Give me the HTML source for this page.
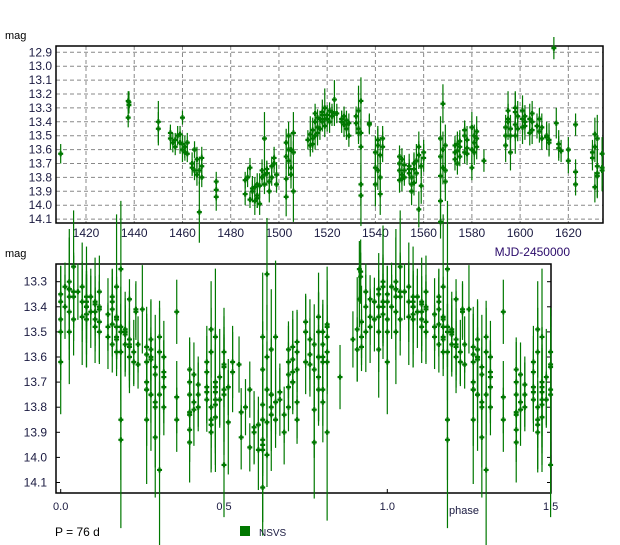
<!DOCTYPE html>
<html><head><meta charset="utf-8"><style>
html,body{margin:0;padding:0;background:#fff;}
svg{display:block;font-family:"Liberation Sans",sans-serif;}
</style></head><body>
<svg id="chart" width="620" height="545"></svg>
<script>
// Observations: MJD-2450000, mag, error
const obsTimes = [1409.5,1437.5,1437.5,1437.8,1437.8,1450,1450,1455,1455,1456,1457,1457,1458,1459,1459,1460,1460,1460,1461,1461,1462,1462,1464,1464,1465,1465,1466,1466,1467,1467,1468,1468,1468,1474,1474,1474,1486,1486,1487,1488,1488,1489,1489,1490,1490,1491,1491,1491,1492,1492,1493,1493,1494,1494,1494,1495,1495,1496,1496,1497,1497,1498,1498,1499,1499,1503,1503,1503,1503,1504,1504,1504,1505,1505,1505,1506,1506,1506,1512,1513,1513,1514,1514,1514,1515,1515,1515,1516,1516,1516,1517,1517,1518,1518,1518,1519,1519,1519,1520,1520,1521,1521,1522,1522,1523,1523,1524,1526,1526,1527,1527,1528,1528,1528,1529,1529,1532,1532,1533,1533,1533,1534,1534,1534,1534,1534,1537.5,1537.5,1540,1540,1540,1541,1541,1541,1542,1542,1542,1543,1543,1550,1550,1550,1550,1551,1551,1551,1552,1552,1552,1554,1554,1554,1555,1555,1555,1556,1556,1556,1557,1557,1558,1558,1558,1559,1559,1560,1560,1567,1567,1567,1567,1567,1568,1568,1568,1569,1569,1569,1573,1573,1573,1574,1574,1574,1575,1575,1575,1577,1577,1577,1578,1578,1578,1580,1580,1580,1581,1581,1581,1582,1582,1582,1585,1594,1594,1594,1595,1595,1595,1596,1596,1596,1598,1598,1598,1598,1599,1599,1601,1601,1601,1602,1602,1602,1604,1604,1605,1605,1605,1607,1608,1608,1609,1609,1611,1611,1612,1612,1614,1615,1616,1616,1617,1620,1620,1623,1623,1623,1630,1630,1631,1631,1631,1632,1632,1632,1632,1634,1634,1634];
const obsMags = [13.63,13.25,13.37,13.26,13.28,13.40,13.45,13.48,13.52,13.55,13.58,13.53,13.50,13.55,13.49,13.60,13.37,13.56,13.62,13.58,13.55,13.63,13.70,13.73,13.75,13.60,13.67,13.78,13.75,14.05,13.72,13.80,13.66,13.83,13.89,13.94,13.82,13.92,13.80,13.73,13.96,13.88,13.90,13.87,13.97,13.85,13.93,13.95,13.99,13.86,13.75,13.80,13.52,13.78,13.85,13.77,13.74,13.83,13.90,13.80,13.72,13.66,13.70,13.78,13.85,13.55,13.65,13.81,13.94,13.50,13.60,13.68,13.73,13.78,13.60,13.48,13.90,13.62,13.53,13.49,13.57,13.46,13.52,13.56,13.34,13.40,13.50,13.48,13.44,13.37,13.45,13.38,13.40,13.33,13.35,13.43,13.38,13.30,13.35,13.38,13.32,13.40,13.36,13.33,13.24,13.34,13.34,13.40,13.38,13.36,13.42,13.42,13.45,13.39,13.41,13.50,13.41,13.36,13.45,13.48,13.32,13.48,13.58,13.85,13.93,13.25,13.41,13.42,13.62,13.73,13.85,13.53,13.57,13.75,13.64,13.80,13.92,13.52,13.58,13.75,13.65,13.82,13.70,13.78,13.67,13.81,13.71,13.80,13.75,13.72,13.74,13.77,13.80,13.85,13.90,13.74,13.70,13.84,13.68,13.77,13.64,13.58,14.03,13.72,13.86,13.66,13.62,13.52,13.65,13.79,13.97,14.12,13.27,13.60,13.73,13.57,13.75,13.83,13.57,13.62,13.67,13.61,13.70,13.56,13.65,13.58,13.54,13.50,13.62,13.46,13.53,13.63,13.59,13.44,13.60,13.73,13.50,13.55,13.62,13.47,13.52,13.58,13.68,13.44,13.50,13.57,13.38,13.32,13.40,13.45,13.50,13.62,13.33,13.30,13.42,13.50,13.36,13.45,13.32,13.38,13.44,13.40,13.36,13.43,13.38,13.48,13.40,13.34,13.46,13.43,13.38,13.47,13.44,13.52,13.51,13.50,13.53,13.55,12.87,13.41,13.56,13.59,13.61,13.60,13.68,13.42,13.76,13.85,13.62,13.66,13.58,13.87,13.49,13.72,13.79,13.52,13.77,13.63,13.73,13.75];
const obsErrs = [0.07,0.07,0.07,0.08,0.06,0.15,0.12,0.06,0.08,0.07,0.06,0.05,0.07,0.08,0.06,0.09,0.05,0.07,0.06,0.08,0.07,0.06,0.08,0.06,0.07,0.06,0.09,0.08,0.10,0.22,0.09,0.07,0.08,0.07,0.08,0.10,0.06,0.08,0.07,0.07,0.06,0.09,0.08,0.07,0.10,0.08,0.09,0.07,0.08,0.09,0.08,0.06,0.19,0.08,0.07,0.09,0.06,0.07,0.08,0.06,0.07,0.08,0.07,0.09,0.06,0.10,0.09,0.12,0.14,0.10,0.08,0.11,0.09,0.10,0.12,0.15,0.22,0.08,0.07,0.13,0.08,0.09,0.07,0.06,0.07,0.08,0.10,0.09,0.07,0.06,0.08,0.06,0.07,0.09,0.06,0.08,0.07,0.14,0.07,0.09,0.06,0.08,0.07,0.06,0.14,0.09,0.07,0.08,0.06,0.07,0.09,0.06,0.08,0.07,0.07,0.08,0.08,0.07,0.09,0.08,0.18,0.10,0.12,0.15,0.22,0.17,0.07,0.07,0.12,0.14,0.16,0.10,0.12,0.14,0.13,0.15,0.15,0.09,0.11,0.07,0.08,0.09,0.10,0.07,0.08,0.09,0.07,0.06,0.08,0.09,0.07,0.08,0.06,0.07,0.10,0.11,0.08,0.09,0.12,0.07,0.10,0.11,0.13,0.07,0.13,0.10,0.09,0.16,0.12,0.15,0.18,0.12,0.14,0.13,0.12,0.15,0.14,0.14,0.07,0.09,0.08,0.10,0.08,0.09,0.07,0.10,0.08,0.09,0.08,0.07,0.10,0.08,0.09,0.11,0.16,0.09,0.08,0.10,0.09,0.11,0.08,0.09,0.08,0.09,0.10,0.12,0.11,0.14,0.13,0.10,0.12,0.13,0.15,0.11,0.12,0.13,0.11,0.09,0.11,0.10,0.12,0.09,0.08,0.10,0.11,0.09,0.08,0.09,0.10,0.09,0.08,0.08,0.10,0.08,0.09,0.10,0.12,0.09,0.08,0.11,0.10,0.09,0.08,0.09,0.09,0.08,0.09,0.08,0.09,0.09,0.11,0.11,0.12,0.15,0.15,0.17,0.18,0.12,0.13,0.15,0.18,0.11,0.10,0.12,0.15,0.08,0.09,0.10];
const period = 76;
const epoch = 1444;
const topXTicks = [1420,1440,1460,1480,1500,1520,1540,1560,1580,1600,1620];
const topYTicks = [12.9,13.0,13.1,13.2,13.3,13.4,13.5,13.6,13.7,13.8,13.9,14.0,14.1];
const botXTicks = [0.0,0.5,1.0,1.5];
const botYTicks = [13.3,13.4,13.5,13.6,13.7,13.8,13.9,14.0,14.1];

const NS='http://www.w3.org/2000/svg';
const svg=document.getElementById('chart');
const G='#007800';
function mk(tag,attrs,parent){const e=document.createElementNS(NS,tag);for(const k in attrs)e.setAttribute(k,attrs[k]);(parent||svg).appendChild(e);return e;}
const tx=t=>86+(t-1420)*2.4117;
const ty=m=>52.3+(m-12.9)*139.0;
const px=p=>60.7+p*326.6;
const py=m=>281.7+(m-13.3)*251.0;

const topG=mk('g',{});


topYTicks.forEach(v=>{
  const l=mk('line',{x1:56,x2:603,y1:ty(v),y2:ty(v),stroke:'#888','stroke-dasharray':'4,3'},topG);
  
  
  const t=mk('text',{x:52,y:ty(v)+4,'text-anchor':'end','font-size':12,fill:'#1a1a40'},topG);
  
  
  t.textContent=v.toFixed(1);
});
topXTicks.forEach(v=>{
  const l=mk('line',{x1:tx(v),x2:tx(v),y1:46,y2:223,stroke:'#888','stroke-dasharray':'4,3'},topG);
  
  
  const t=mk('text',{x:tx(v),y:237,'text-anchor':'middle','font-size':12,fill:'#1a1a40'},topG);
  
  
  t.textContent=v;
});
const f1=mk('rect',{x:56,y:46,width:547,height:177,fill:'none',stroke:'#000','stroke-width':1.5},topG);



function point(parent,x,y,ye1,ye2){
  const l=mk('line',{x1:x,x2:x,y1:ye1,y2:ye2,stroke:G,'stroke-width':1.2},parent);
  
  
  const p=mk('path',{d:`M${x-2.5},${y}h5M${x},${y-2.5}v5`,stroke:G,'stroke-width':2.2},parent);
  
  
}
obsTimes.forEach((t,i)=>{
  if(obsMags[i]===undefined) return;
  const e=obsErrs[i]||0.08;
  point(topG,tx(t),ty(obsMags[i]),ty(obsMags[i]-e),ty(obsMags[i]+e));
});

const botG=mk('g',{});


const f2=mk('rect',{x:56,y:264,width:495,height:229,fill:'none',stroke:'#000','stroke-width':1.5},botG);


botYTicks.forEach(v=>{
  const t=mk('text',{x:47,y:py(v)+4,'text-anchor':'end','font-size':12,fill:'#1a1a40'},botG);
  
  
  t.textContent=v.toFixed(1);
  const a=mk('line',{x1:56,x2:60,y1:py(v),y2:py(v),stroke:'#000'},botG);
  
  
  const b=mk('line',{x1:547,x2:551,y1:py(v),y2:py(v),stroke:'#000'},botG);
  
  
});
botXTicks.forEach(v=>{
  const a=mk('line',{x1:px(v),x2:px(v),y1:493,y2:489,stroke:'#000'},botG);
  
  
  const t=mk('text',{x:px(v),y:510,'text-anchor':'middle','font-size':11,fill:'#1a1a40'},botG);
  
  
  t.textContent=v.toFixed(1);
});
obsTimes.forEach((t,i)=>{
  if(obsMags[i]===undefined || obsMags[i]<13.2) return;
  let ph=((t-epoch)/period)%1; if(ph<0) ph+=1;
  const m=obsMags[i],e=(obsErrs[i]||0.08)*1.6;
  [ph,ph+1].forEach(p=>{
    if(p<=1.5) point(botG,px(p),py(m),py(m-e),py(m+e));
  });
});

function label(txt,x,y,size,fill,name,anchor){
  const t=mk('text',{x:x,y:y,'font-size':size,fill:fill,'text-anchor':anchor||'start'});
  
  
  t.textContent=txt;return t;
}
label('mag',5,39,11,'#000','top-y-axis-title');
label('mag',5,257,11,'#000','bottom-y-axis-title');
label('MJD-2450000',570,256,12,'#2a0a6a','top-x-axis-title','end');
label('phase',449,514,11,'#1a1a40','bottom-x-axis-title');
label('P = 76 d',55,536,12,'#000','period-label');
const lg=mk('rect',{x:240,y:526,width:10,height:10,fill:G});


label('NSVS',259,536,10,'#1a1a40','legend-entry-nsvs');
</script>
</body></html>
